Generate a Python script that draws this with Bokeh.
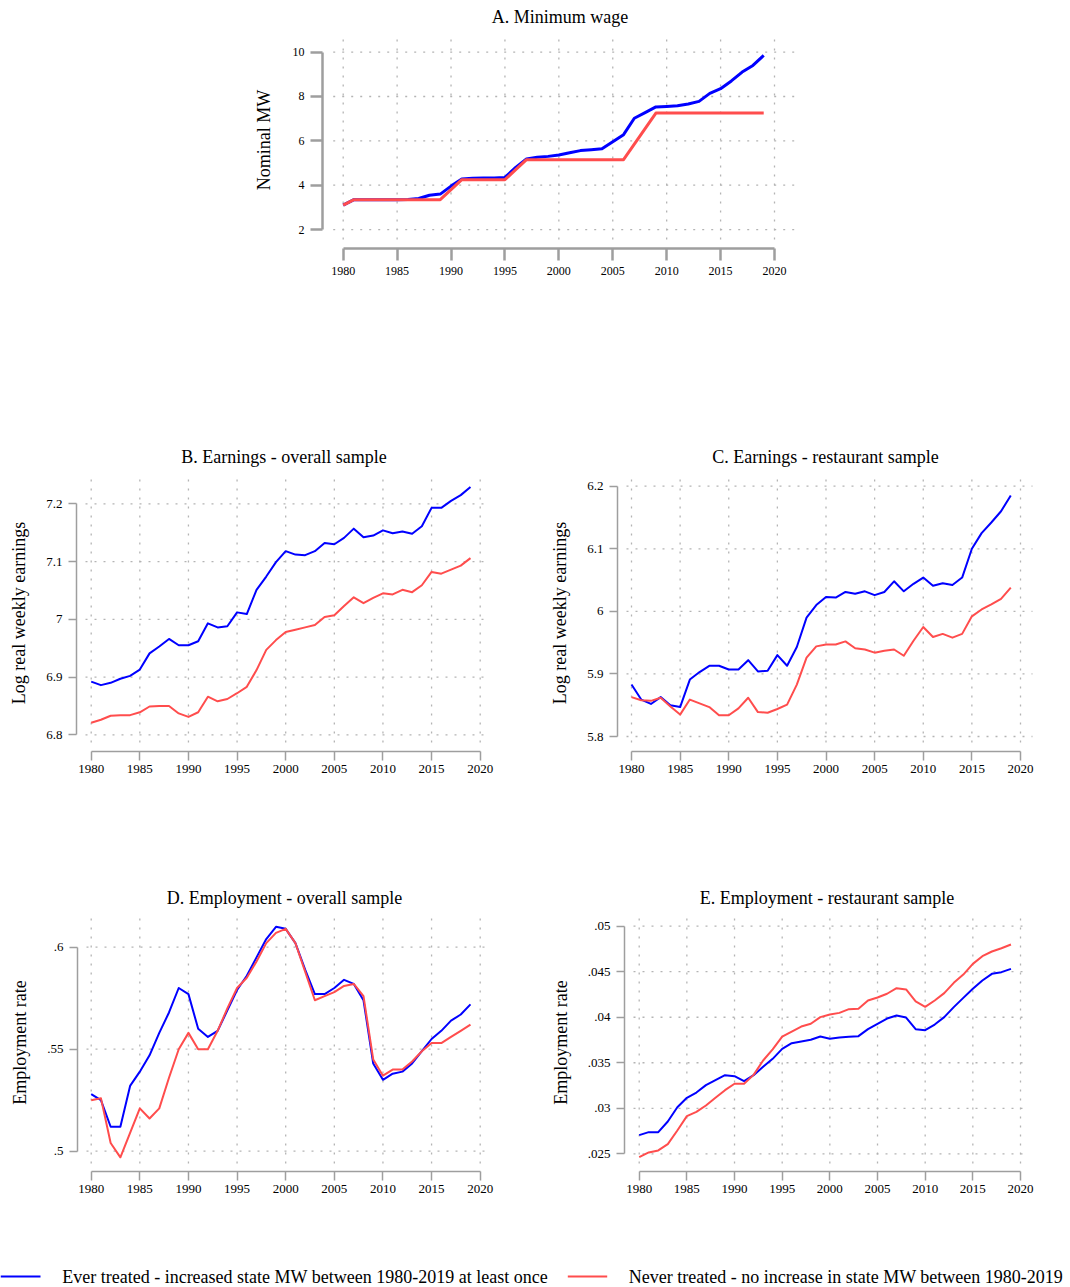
from bokeh.plotting import figure
from bokeh.models import Range1d, FixedTicker
from bokeh.core.properties import value
from bokeh.layouts import column, row
from bokeh.embed import file_html
from bokeh.resources import INLINE

# ---------------- data ----------------
years = list(range(1980, 2020))

mw_treated = [3.10, 3.35, 3.35, 3.35, 3.35, 3.35, 3.36, 3.40, 3.55, 3.60,
              3.96, 4.28, 4.31, 4.32, 4.33, 4.35, 4.80, 5.18, 5.26, 5.30,
              5.36, 5.46, 5.56, 5.60, 5.64, 5.96, 6.28, 7.02, 7.27, 7.53,
              7.55, 7.58, 7.66, 7.78, 8.14, 8.35, 8.70, 9.10, 9.40, 9.85]
mw_never = [3.10, 3.35, 3.35, 3.35, 3.35, 3.35, 3.35, 3.35, 3.35, 3.35,
            3.80, 4.25, 4.25, 4.25, 4.25, 4.25, 4.70, 5.15, 5.15, 5.15,
            5.15, 5.15, 5.15, 5.15, 5.15, 5.15, 5.15, 5.85, 6.55, 7.25,
            7.25, 7.25, 7.25, 7.25, 7.25, 7.25, 7.25, 7.25, 7.25, 7.25]

earn_all_treated = [6.892, 6.886, 6.890, 6.897, 6.902, 6.913, 6.941, 6.953, 6.966, 6.955,
                    6.955, 6.962, 6.993, 6.986, 6.988, 7.012, 7.009, 7.051, 7.074, 7.099,
                    7.118, 7.112, 7.111, 7.118, 7.132, 7.130, 7.141, 7.157, 7.142, 7.145,
                    7.154, 7.149, 7.152, 7.148, 7.161, 7.193, 7.193, 7.205, 7.215, 7.229]
earn_all_never = [6.821, 6.826, 6.833, 6.834, 6.834, 6.839, 6.849, 6.850, 6.850, 6.837,
                  6.831, 6.839, 6.866, 6.858, 6.862, 6.872, 6.883, 6.912, 6.947, 6.964,
                  6.978, 6.982, 6.986, 6.990, 7.004, 7.007, 7.023, 7.038, 7.028, 7.037,
                  7.045, 7.043, 7.051, 7.047, 7.059, 7.082, 7.079, 7.086, 7.093, 7.106]

earn_rest_treated = [5.883, 5.859, 5.852, 5.863, 5.850, 5.847, 5.891, 5.903, 5.913, 5.913,
                     5.907, 5.907, 5.922, 5.904, 5.905, 5.930, 5.913, 5.943, 5.990, 6.010,
                     6.023, 6.022, 6.031, 6.028, 6.032, 6.026, 6.031, 6.048, 6.032, 6.044,
                     6.054, 6.041, 6.045, 6.042, 6.054, 6.100, 6.125, 6.142, 6.160, 6.185]
earn_rest_never = [5.863, 5.858, 5.857, 5.862, 5.848, 5.835, 5.859, 5.853, 5.847, 5.834,
                   5.834, 5.845, 5.862, 5.839, 5.838, 5.844, 5.851, 5.883, 5.926, 5.944,
                   5.947, 5.947, 5.952, 5.941, 5.939, 5.934, 5.937, 5.939, 5.929, 5.953,
                   5.975, 5.959, 5.964, 5.958, 5.964, 5.992, 6.003, 6.011, 6.020, 6.038]

emp_all_treated = [.528, .525, .512, .512, .532, .539, .547, .558, .568, .580,
                   .577, .560, .556, .559, .569, .579, .586, .595, .604, .610,
                   .609, .602, .589, .577, .577, .580, .584, .582, .574, .543,
                   .535, .538, .539, .543, .549, .555, .559, .564, .567, .572]
emp_all_never = [.525, .526, .504, .497, .509, .521, .516, .521, .536, .550,
                 .558, .550, .550, .559, .570, .580, .585, .593, .602, .607,
                 .609, .602, .588, .574, .576, .578, .581, .582, .576, .545,
                 .537, .540, .540, .544, .549, .553, .553, .556, .559, .562]

emp_rest_treated = [.02705, .02738, .02738, .02855, .03012, .03115, .03173, .03254, .03309, .03364,
                    .03353, .03298, .03364, .03455, .03543, .03653, .03715, .03733, .03752, .03788,
                    .03763, .03777, .03785, .03792, .03869, .03928, .03986, .04019, .03997, .03869,
                    .03858, .03920, .04001, .04111, .04213, .04312, .04403, .04477, .04495, .04531]
emp_rest_never = [.02463, .02515, .02537, .02606, .02756, .02914, .02961, .03031, .03115, .03199,
                  .03269, .03269, .03367, .03525, .03646, .03788, .03843, .03898, .03928, .04001,
                  .04030, .04048, .04089, .04092, .04184, .04217, .04258, .04319, .04305, .04173,
                  .04114, .04184, .04265, .04378, .04469, .04586, .04671, .04722, .04758, .04799]

x_ticks = [1980, 1985, 1990, 1995, 2000, 2005, 2010, 2015, 2020]
x_tick_labels = ["1980", "1985", "1990", "1995", "2000", "2005", "2010", "2015", "2020"]

a_ticks = [2, 4, 6, 8, 10]
a_labels = ["2", "4", "6", "8", "10"]
b_ticks = [6.8, 6.9, 7.0, 7.1, 7.2]
b_labels = ["6.8", "6.9", "7", "7.1", "7.2"]
c_ticks = [5.8, 5.9, 6.0, 6.1, 6.2]
c_labels = ["5.8", "5.9", "6", "6.1", "6.2"]
d_ticks = [0.5, 0.55, 0.6]
d_labels = [".5", ".55", ".6"]
e_ticks = [0.025, 0.03, 0.035, 0.04, 0.045, 0.05]
e_labels = [".025", ".03", ".035", ".04", ".045", ".05"]

titles = ["A. Minimum wage", "B. Earnings - overall sample", "C. Earnings - restaurant sample",
          "D. Employment - overall sample", "E. Employment - restaurant sample"]
y_titles = ["Nominal MW", "Log real weekly earnings", "Log real weekly earnings",
            "Employment rate", "Employment rate"]
legend_labels = ["Ever treated - increased state MW between 1980-2019 at least once",
                 "Never treated - no increase in state MW between 1980-2019"]

BLUE = "#0000FF"
RED = "#FF4D4D"
AXIS = "#9e9e9e"
GRIDC = "#b4b4b4"
FONT = "Liberation Serif"


def make_panel(spec, treated, never, ticks, labels, title, ytitle):
    ox, oy = spec["origin"]
    W, H = spec["size"]
    fl, ft, fr, fb = spec["frame"]
    xa, xa_px, xb, xb_px = spec["xcal"]
    ya, ya_px, yb, yb_px = spec["ycal"]

    def hx(px):
        return xa + (px - xa_px) * (xb - xa) / (xb_px - xa_px)

    def vy(py):
        return ya + (py - ya_px) * (yb - ya) / (yb_px - ya_px)

    p = figure(width=W, height=H, output_backend="svg", toolbar_location=None,
               x_range=Range1d(hx(fl), hx(fr)), y_range=Range1d(vy(fb), vy(ft)),
               min_border_left=fl - ox, min_border_right=W - (fr - ox),
               min_border_top=ft - oy, min_border_bottom=H - (fb - oy))
    p.outline_line_color = None
    p.background_fill_color = "white"
    p.border_fill_color = "white"
    p.xgrid.visible = False
    p.ygrid.visible = False

    # title
    p.title.text = title
    p.title.align = "center"
    p.title.text_font = FONT
    p.title.text_font_size = "18px"
    p.title.text_font_style = "normal"
    p.title.text_color = "black"
    p.title.standoff = spec["t_standoff"]
    p.title.offset = spec["t_offset"]

    # dotted grid (plot region only)
    gl, gt, gr, gb = spec["grid"]
    p.segment(x0=x_ticks, y0=[vy(gb)] * len(x_ticks), x1=x_ticks, y1=[vy(gt)] * len(x_ticks),
              line_color=GRIDC, line_width=1.3, line_dash="2 7")
    p.segment(x0=[hx(gl)] * len(ticks), y0=ticks, x1=[hx(gr)] * len(ticks), y1=ticks,
              line_color=GRIDC, line_width=1.3, line_dash="2 7")

    lw = spec["lw"]
    p.line(years, treated, line_color=BLUE, line_width=lw, line_join="round")
    p.line(years, never, line_color=RED, line_width=lw, line_join="round")

    for ax, tk, lb, out, so in ((p.xaxis, x_ticks, x_tick_labels, spec["xtick"], spec["xso"]),
                                (p.yaxis, ticks, labels, spec["ytick"], spec["yso"])):
        ax.ticker = FixedTicker(ticks=tk)
        ax.major_label_overrides = {t: l for t, l in zip(tk, lb)}
        ax.bounds = (min(tk), max(tk))
        ax.axis_line_color = AXIS
        ax.axis_line_width = spec["aw"]
        ax.major_tick_line_color = AXIS
        ax.major_tick_line_width = spec["aw"]
        ax.major_tick_out = out
        ax.major_tick_in = 0
        ax.minor_tick_line_color = None
        ax.major_label_text_font = FONT
        ax.major_label_text_font_size = spec["fs"]
        ax.major_label_text_color = "black"
        ax.major_label_standoff = so

    p.yaxis.axis_label = ytitle
    p.yaxis.axis_label_text_font = FONT
    p.yaxis.axis_label_text_font_size = "18px"
    p.yaxis.axis_label_text_font_style = "normal"
    p.yaxis.axis_label_text_color = "black"
    p.yaxis.axis_label_standoff = spec["yl_standoff"]
    return p


spec_a = dict(origin=(0, 0), size=(1068, 428), frame=(322, 30, 797, 248),
              xcal=(1980, 342.7, 2020, 774.0), ycal=(10, 50.7, 2, 229.0),
              grid=(332.7, 32, 797, 239), xtick=12, ytick=12, xso=6, yso=6,
              fs="12px", aw=2.5, lw=3, t_standoff=9, t_offset=0, yl_standoff=16)
spec_b = dict(origin=(0, 428), size=(540, 432), frame=(76, 474, 491, 751),
              xcal=(1980, 90.7, 2020, 479.7), ycal=(7.2, 503.3, 6.8, 734.3),
              grid=(85, 478, 490, 742), xtick=9, ytick=8, xso=4, yso=6,
              fs="13px", aw=1.5, lw=2, t_standoff=15, t_offset=1.5, yl_standoff=14)
spec_c = dict(origin=(540, 428), size=(528, 432), frame=(617, 474, 1033, 751),
              xcal=(1980, 631.0, 2020, 1020.0), ycal=(6.2, 485.7, 5.8, 736.0),
              grid=(626, 476, 1032, 742), xtick=9, ytick=8, xso=4, yso=6,
              fs="13px", aw=1.5, lw=2, t_standoff=15, t_offset=0.5, yl_standoff=14)
spec_d = dict(origin=(0, 860), size=(540, 366), frame=(77, 913, 491, 1171),
              xcal=(1980, 90.7, 2020, 479.7), ycal=(0.6, 946.7, 0.5, 1150.7),
              grid=(86, 917, 490, 1163), xtick=9, ytick=8, xso=4, yso=6,
              fs="13px", aw=1.5, lw=2, t_standoff=12, t_offset=1, yl_standoff=14)
spec_e = dict(origin=(540, 860), size=(528, 366), frame=(624, 913, 1029, 1171),
              xcal=(1980, 638.7, 2020, 1020.0), ycal=(0.05, 925.7, 0.025, 1153.3),
              grid=(633, 915, 1028, 1163), xtick=9, ytick=8, xso=4, yso=6,
              fs="13px", aw=1.5, lw=2, t_standoff=12, t_offset=2.3, yl_standoff=14)

pa = make_panel(spec_a, mw_treated, mw_never, a_ticks, a_labels, titles[0], y_titles[0])
pb = make_panel(spec_b, earn_all_treated, earn_all_never, b_ticks, b_labels, titles[1], y_titles[1])
pc = make_panel(spec_c, earn_rest_treated, earn_rest_never, c_ticks, c_labels, titles[2], y_titles[2])
pd_ = make_panel(spec_d, emp_all_treated, emp_all_never, d_ticks, d_labels, titles[3], y_titles[3])
pe = make_panel(spec_e, emp_rest_treated, emp_rest_never, e_ticks, e_labels, titles[4], y_titles[4])

# legend strip (screen-like coordinates: x in px from left, y in px from bottom)
LTOP = 1226
LW, LH = 1068, 1287 - LTOP
lf = figure(width=LW, height=LH, output_backend="svg", toolbar_location=None,
            x_range=Range1d(0, LW), y_range=Range1d(0, LH),
            x_axis_type=None, y_axis_type=None,
            min_border_left=0, min_border_right=0, min_border_top=0, min_border_bottom=0)
lf.outline_line_color = None
lf.xgrid.visible = False
lf.ygrid.visible = False
leg_y = LH - (1276 - LTOP)
lf.segment(x0=[0, 567.3], y0=[leg_y, leg_y], x1=[40, 606.7], y1=[leg_y, leg_y],
           line_color=[BLUE, RED], line_width=2)
lf.text(x=[61.7, 628.3], y=[leg_y, leg_y], text=legend_labels,
        text_font=value(FONT), text_font_size=value("18px"), text_color="black",
        text_align="left", text_baseline="middle")

layout = column(row(pa), row(pb, pc), row(pd_, pe), row(lf))
open("out.html", "w").write(file_html(layout, INLINE))
